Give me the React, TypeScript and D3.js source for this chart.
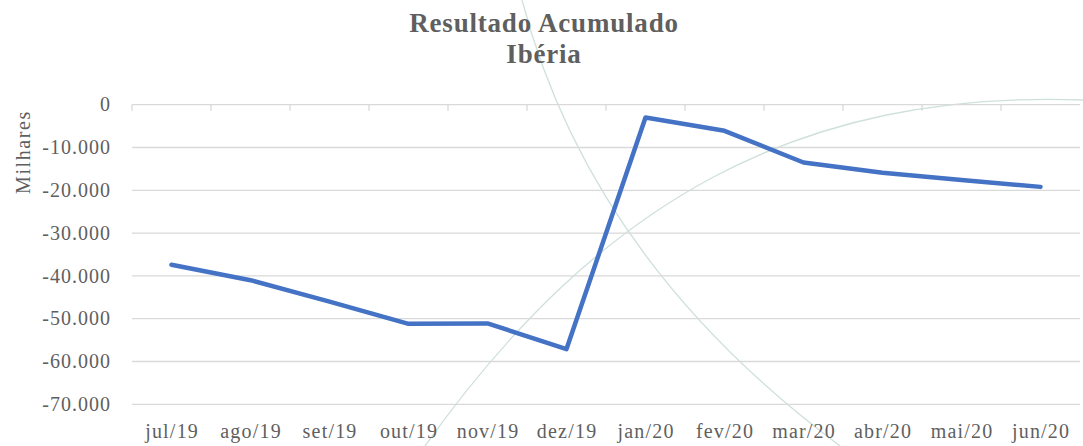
import { useEffect, useRef } from 'react';
import * as d3 from 'd3';

const months = ['jul/19', 'ago/19', 'set/19', 'out/19', 'nov/19', 'dez/19', 'jan/20', 'fev/20', 'mar/20', 'abr/20', 'mai/20', 'jun/20'];
const resultado = [-37400, -41000, -46000, -51200, -51100, -57100, -3000, -6100, -13500, -15900, -17600, -19200];
const yTicks = [0, -10000, -20000, -30000, -40000, -50000, -60000, -70000];

const WIDTH = 1083;
const HEIGHT = 446;
const FONT = '"Liberation Serif", "DejaVu Serif", serif';
const TEXT = '#5f5f5f';

export default function App() {
  const ref = useRef<SVGSVGElement>(null);

  useEffect(() => {
    if (!ref.current) return;
    const svg = d3.select(ref.current);
    svg.selectAll('*').remove();

    const margin = { top: 104.7, right: 3, bottom: 41.7, left: 132 };

    const x = d3.scaleBand<string>()
      .domain(months)
      .range([margin.left, WIDTH - margin.right])
      .padding(0);

    const y = d3.scaleLinear()
      .domain([-70000, 0])
      .range([HEIGHT - margin.bottom, margin.top]);

    const fmt = d3.formatLocale({
      decimal: ',', thousands: '.', grouping: [3], currency: ['', ''], minus: '-',
    }).format(',');

    // background decoration (theme arcs)
    const deco = svg.append('g').attr('fill', 'none').attr('stroke', '#cfe0dc').attr('stroke-width', 1.3);
    deco.append('path').attr('d', 'M522,0 Q590,260 840,446');
    deco.append('path').attr('d', 'M425,446 C600,200 800,90 1083,100');

    // grid
    svg.append('g')
      .selectAll('line')
      .data(yTicks.filter(d => d !== 0))
      .enter().append('line')
      .attr('x1', margin.left).attr('x2', WIDTH - margin.right)
      .attr('y1', d => y(d)).attr('y2', d => y(d))
      .attr('stroke', '#d9d9d9').attr('stroke-width', 1.3);

    // category axis along zero line, ticks pointing down
    const xAxis = svg.append('g').attr('transform', `translate(0,${y(0)})`);
    xAxis.append('line')
      .attr('x1', margin.left).attr('x2', WIDTH - margin.right)
      .attr('stroke', '#d9d9d9').attr('stroke-width', 1.3);
    xAxis.selectAll('line.tick')
      .data(months)
      .enter().append('line')
      .attr('class', 'tick')
      .attr('x1', d => x(d)!).attr('x2', d => x(d)!)
      .attr('y1', 0).attr('y2', 6)
      .attr('stroke', '#d9d9d9').attr('stroke-width', 1.3);

    // x labels at bottom
    svg.append('g')
      .selectAll('text')
      .data(months)
      .enter().append('text')
      .attr('x', d => x(d)! + x.bandwidth() / 2 + 0.6)
      .attr('y', 438)
      .attr('text-anchor', 'middle')
      .attr('font-family', FONT).attr('font-size', 20).attr('letter-spacing', 1.2).attr('fill', TEXT)
      .text(d => d);

    // y labels
    svg.append('g')
      .selectAll('text')
      .data(yTicks)
      .enter().append('text')
      .attr('x', 111)
      .attr('y', d => y(d))
      .attr('dy', '0.33em')
      .attr('text-anchor', 'end')
      .attr('font-family', FONT).attr('font-size', 20).attr('letter-spacing', 1).attr('fill', TEXT)
      .text(d => fmt(d));

    svg.append('text')
      .attr('transform', 'translate(23,152) rotate(-90)')
      .attr('dy', '0.33em')
      .attr('text-anchor', 'middle')
      .attr('font-family', FONT).attr('font-size', 20).attr('letter-spacing', 1.6).attr('fill', TEXT)
      .text('Milhares');

    // line
    const line = d3.line<number>()
      .x((_, i) => x(months[i])! + x.bandwidth() / 2)
      .y(d => y(d));

    svg.append('path')
      .datum(resultado)
      .attr('fill', 'none')
      .attr('stroke', '#4472c4')
      .attr('stroke-width', 4.5)
      .attr('stroke-linejoin', 'round')
      .attr('stroke-linecap', 'round')
      .attr('d', line);

    // title
    const title = svg.append('text')
      .attr('text-anchor', 'middle')
      .attr('font-family', FONT).attr('font-size', 27).attr('font-weight', 'bold')
      .attr('letter-spacing', 0.8).attr('fill', TEXT);
    title.append('tspan').attr('x', 544).attr('y', 32).text('Resultado Acumulado');
    title.append('tspan').attr('x', 544).attr('y', 63).text('Ibéria');
  }, []);

  return (
    <div style={{ position: 'absolute', left: 0, top: 0 }}>
      <svg ref={ref} width={WIDTH} height={HEIGHT} style={{ display: 'block', background: '#fff' }} />
    </div>
  );
}
